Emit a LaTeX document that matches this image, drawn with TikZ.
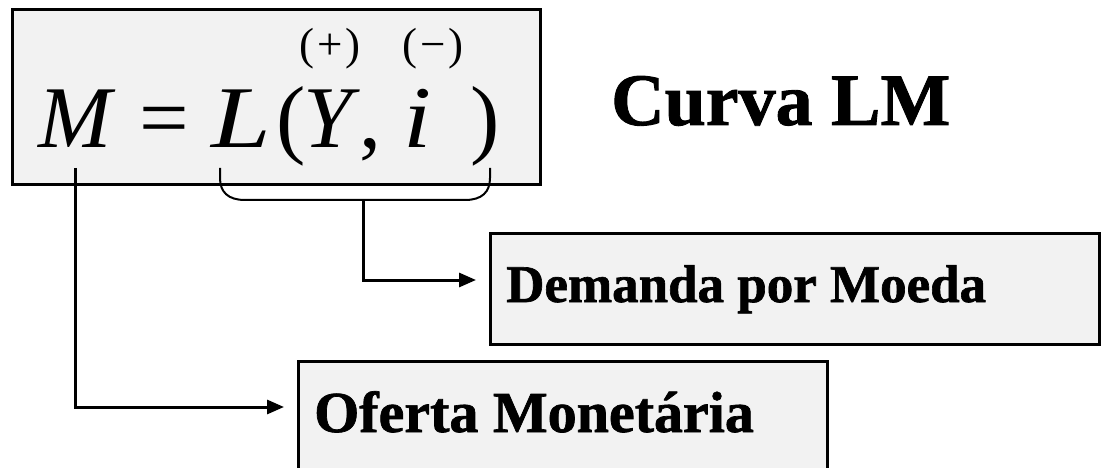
\documentclass[tikz,border=0pt]{standalone}
\usepackage{fontspec}
\usepackage{graphicx}
\setmainfont{Liberation Serif}
\newfontfamily\heavyserif[BoldFont={* Bold}, BoldFeatures={FakeBold=1.2}]{Liberation Serif}
\usetikzlibrary{arrows.meta}
\definecolor{boxgray}{HTML}{F2F2F2}
\tikzset{
  box/.style={draw=black, line width=2.8pt, fill=boxgray, anchor=north west, inner sep=0pt},
  lbl/.style={anchor=base west, inner sep=0pt},
  eqpart/.style={anchor=base west, inner sep=0pt, font=\fontsize{88}{88}\selectfont},
  sgn/.style={anchor=base west, inner sep=0pt, font=\fontsize{45}{45}\selectfont},
  conn/.style={line width=3pt, -{Triangle[length=17pt,width=14pt]}},
  brace/.style={line width=2pt}
}
\begin{document}
\begin{tikzpicture}[x=1pt,y=-1pt]
\useasboundingbox (0,0) rectangle (1101,468);
\clip (0,0) rectangle (1101,468);
% boxes
\node[box, minimum width=528pt, minimum height=175pt] (eqbox) at (11,8) {};
\node[box, minimum width=609pt, minimum height=111pt] (dembox) at (489,232) {};
\node[box, minimum width=529pt, minimum height=130pt] (ofbox) at (297,360) {};
% equation
\node[eqpart] (m) at (38,148) {\itshape M};
\node[eqpart] (eq) at (139,148) {=};
\node[eqpart] (l) at (211,148) {\scalebox{1.22}[1]{\itshape L}};
\node[eqpart] (lp) at (276,148) {(};
\node[eqpart] (y) at (303,148) {\itshape Y};
\node[eqpart] (cm) at (359,148) {,};
\node[eqpart] (i) at (403,148) {\scalebox{1.15}[1]{\itshape i}};
\node[eqpart] (rp) at (470,148) {)};
\node[sgn] (plus) at (299,60) {(\kern3pt+\kern3pt)};
\node[sgn] (minus) at (402,60) {(\kern3pt−\kern3pt)};
% labels
\node[lbl, font=\heavyserif\fontsize{74}{74}\selectfont\bfseries] (curva) at (611,125) {Curva LM};
\node[lbl, font=\heavyserif\fontsize{53}{53}\selectfont\bfseries] (dem) at (506,302) {Demanda por Moeda};
\node[lbl, font=\heavyserif\fontsize{58}{58}\selectfont\bfseries] (of) at (314,432) {Oferta Monetária};
% brace
\coordinate (bl) at (220,168);
\coordinate (br) at (490,168);
\coordinate (bm) at (363,200);
\draw[brace] (bl) -- (220,178) .. controls (220,192) and (228,200) .. (245,200) -- (465,200) .. controls (482,200) and (490,192) .. (490,178) -- (br);
% connectors
\coordinate (demin) at (476,280);
\coordinate (mtop) at (75,168);
\coordinate (ofin) at (284,407);
\draw[conn] (bm) |- (demin);
\draw[conn] (mtop) |- (ofin);
\end{tikzpicture}
\end{document}
